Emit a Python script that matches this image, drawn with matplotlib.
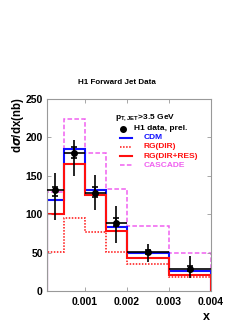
"""H1 forward jet cross section dsigma/dx compared with model predictions."""

import numpy as np
import matplotlib
matplotlib.use("Agg")
import matplotlib.pyplot as plt

plt.rcParams["font.family"] = ["Liberation Sans", "DejaVu Sans"]
plt.rcParams["font.weight"] = "bold"

# bin edges in x
x_edges = [0.0001, 0.0005, 0.001, 0.0015, 0.002, 0.003, 0.004]

# H1 data, prel.
data_val = [131, 180, 128, 89, 51, 29]
data_tot_up = [153, 196, 151, 111, 61, 46]
data_tot_dn = [93, 150, 106, 63, 38, 17]
data_stat_up = [136, 188, 136, 95, 54, 32]
data_stat_dn = [124, 173, 123, 84, 48, 26]

# model predictions
cdm = [119, 185, 132, 83, 50, 26]
rg_dir = [51, 95, 77, 51, 35, 18]
rg_dir_res = [100, 166, 125, 78, 43, 21]
cascade = [129, 224, 180, 133, 85, 49]

BLUE = "#1010ff"
RED = "#ff1010"
MAGENTA = "#f060f0"
GRAY = "#999999"


def main():
    fig = plt.figure(figsize=(2.53, 3.27), dpi=100)
    ax = fig.add_axes([47 / 253, 1 - 291 / 327, 164 / 253, 192 / 327])

    edges = np.array(x_edges)
    centers = 0.5 * (edges[:-1] + edges[1:])
    half_w = 0.5 * np.diff(edges)
    val = np.array(data_val)

    ax.stairs(cascade, edges, baseline=0, color=MAGENTA, lw=1.1, ls=(0, (3, 1.5)))
    ax.stairs(rg_dir, edges, baseline=0, color=RED, lw=1.1, ls=(0, (1, 1)))
    ax.stairs(cdm, edges, baseline=0, color=BLUE, lw=1.5)
    ax.stairs(rg_dir_res, edges, baseline=0, color=RED, lw=1.5)

    tot_err = [val - np.array(data_tot_dn), np.array(data_tot_up) - val]
    stat_err = [val - np.array(data_stat_dn), np.array(data_stat_up) - val]
    ax.errorbar(centers, val, xerr=half_w, yerr=tot_err, fmt="o", color="black",
                ms=4, elinewidth=1.2, capsize=0, zorder=5)
    ax.errorbar(centers, val, yerr=stat_err, fmt="none", ecolor="black",
                elinewidth=1.2, capsize=2.5, capthick=1.2, zorder=5)

    ax.set_xlim(0.0001, 0.004)
    ax.set_ylim(0, 250)
    ax.set_xticks([0.001, 0.002, 0.003, 0.004])
    ax.set_xticklabels(["0.001", "0.002", "0.003", "0.004"])
    ax.set_yticks([0, 50, 100, 150, 200, 250])
    ax.tick_params(direction="in", length=3, width=0.6, color=GRAY,
                   top=True, right=True, labelsize=7.5, pad=4)
    ax.tick_params(axis="y", pad=3)
    for lab in ax.get_xticklabels() + ax.get_yticklabels():
        lab.set_fontweight("bold")
    for sp in ax.spines.values():
        sp.set_color(GRAY)
        sp.set_linewidth(0.8)

    # legend, drawn by hand so each label takes its curve colour
    ax.text(0.415, 0.90, r"p$_{\mathregular{T,JET}}$>3.5 GeV", transform=ax.transAxes,
            fontsize=6, fontweight="bold", va="baseline")
    ax.plot([0.463], [0.844], "o", color="black", ms=4, transform=ax.transAxes)
    ax.text(0.53, 0.844, "H1 data, prel.", transform=ax.transAxes,
            fontsize=6, fontweight="bold", va="center")
    rows = [
        ("CDM", BLUE, "-", 1.5, 0.797),
        ("RG(DIR)", RED, (0, (1, 1)), 1.1, 0.75),
        ("RG(DIR+RES)", RED, "-", 1.5, 0.703),
        ("CASCADE", MAGENTA, (0, (3, 1.5)), 1.1, 0.656),
    ]
    for label, col, ls, lw, yy in rows:
        ax.plot([0.445, 0.52], [yy, yy], color=col, ls=ls, lw=lw, transform=ax.transAxes)
        ax.text(0.59, yy, label, color=col, transform=ax.transAxes,
                fontsize=6, fontweight="bold", va="center")

    fig.text(117 / 253, 1 - 83 / 327, "H1 Forward Jet Data", ha="center", va="center",
             fontsize=5.8, fontweight="bold")
    fig.text(17.5 / 253, 1 - 97 / 327, r"d$\sigma$/dx(nb)", rotation=90,
             ha="center", va="top", fontsize=8.3, fontweight="bold")
    fig.text(206 / 253, 1 - 317 / 327, "x", ha="center", va="center",
             fontsize=9, fontweight="bold")

    fig.savefig("out.png", dpi=100)


if __name__ == "__main__":
    main()
